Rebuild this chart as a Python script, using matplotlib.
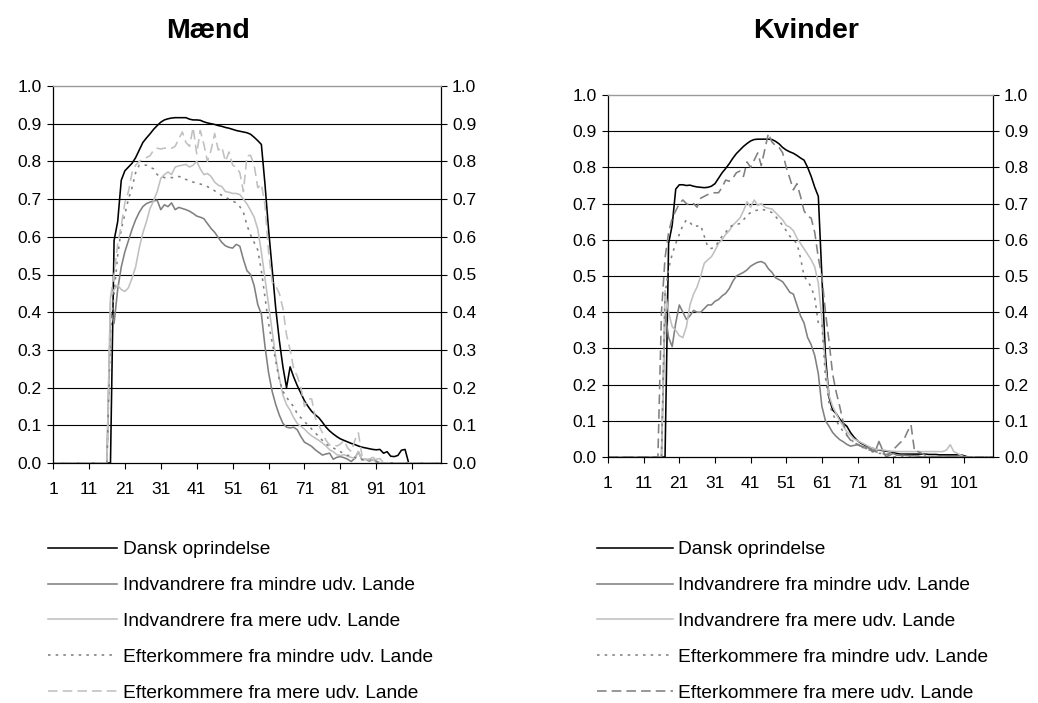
import matplotlib
matplotlib.use("Agg")
import matplotlib.pyplot as plt
import numpy as np

plt.rcParams["font.family"] = ["Liberation Sans", "DejaVu Sans"]

N_AGES = 109
AGES = np.arange(1, N_AGES + 1)
X_TICKS = np.arange(1, 102, 10)
Y_TICKS = np.round(np.arange(0, 1.01, 0.1), 1)

LABELS = [
    "Dansk oprindelse",
    "Indvandrere fra mindre udv. Lande",
    "Indvandrere fra mere udv. Lande",
    "Efterkommere fra mindre udv. Lande",
    "Efterkommere fra mere udv. Lande",
]

# Mænd, values from the first listed age (17) onwards; zero elsewhere
MEN_START = 17
MEN_DANSK = [
    0.0, 0.59, 0.64, 0.75, 0.775, 0.785, 0.795, 0.81, 0.83, 0.85,
    0.862, 0.873, 0.885, 0.895, 0.904, 0.91, 0.913, 0.915, 0.916, 0.916,
    0.916, 0.916, 0.912, 0.91, 0.91, 0.909, 0.905, 0.902, 0.90, 0.898,
    0.895, 0.893, 0.89, 0.888, 0.885, 0.882, 0.88, 0.878, 0.876, 0.872,
    0.864, 0.855, 0.845, 0.74, 0.62, 0.515, 0.41, 0.325, 0.255, 0.2,
    0.255, 0.228, 0.205, 0.185, 0.165, 0.15, 0.137, 0.128, 0.12, 0.108,
    0.095, 0.085, 0.077, 0.07, 0.064, 0.06, 0.056, 0.052, 0.049, 0.045,
    0.042, 0.04, 0.038, 0.036, 0.035, 0.036, 0.026, 0.03, 0.018, 0.017,
    0.02, 0.034, 0.036, 0.0,
]
MEN_IND_MINDRE = [
    0.40, 0.37, 0.46, 0.52, 0.56, 0.59, 0.62, 0.645, 0.665, 0.68,
    0.688, 0.692, 0.695, 0.697, 0.672, 0.685, 0.68, 0.69, 0.672, 0.678,
    0.675, 0.672, 0.668, 0.662, 0.655, 0.652, 0.648, 0.635, 0.622, 0.612,
    0.598, 0.585, 0.576, 0.572, 0.57, 0.58, 0.575, 0.54, 0.51, 0.5,
    0.47, 0.42, 0.395, 0.31, 0.24, 0.19, 0.155, 0.127, 0.105, 0.095,
    0.093, 0.095, 0.088, 0.07, 0.055, 0.05, 0.044, 0.035, 0.028, 0.021,
    0.024, 0.026, 0.01, 0.015, 0.017, 0.014, 0.01, 0.004, 0.012, 0.03,
    0.008, 0.01, 0.005, 0.008, 0.005, 0.0,
]
MEN_IND_MERE = [
    0.44, 0.46, 0.472, 0.46, 0.455, 0.465, 0.49, 0.52, 0.57, 0.61,
    0.64, 0.675, 0.695, 0.72, 0.755, 0.765, 0.772, 0.765, 0.785, 0.788,
    0.79, 0.792, 0.785, 0.79, 0.80, 0.78, 0.765, 0.768, 0.76, 0.745,
    0.737, 0.733, 0.72, 0.718, 0.715, 0.715, 0.712, 0.70, 0.687, 0.67,
    0.652, 0.62, 0.56, 0.49, 0.42, 0.35, 0.28, 0.225, 0.18, 0.155,
    0.14, 0.12, 0.105, 0.097, 0.09, 0.08, 0.072, 0.066, 0.06, 0.053,
    0.045, 0.035, 0.03, 0.022, 0.02, 0.022, 0.018, 0.015, 0.012, 0.03,
    0.008, 0.01, 0.008, 0.007, 0.01, 0.012, 0.0,
]
MEN_EFT_MINDRE = [
    0.35, 0.45, 0.55, 0.62, 0.66, 0.70, 0.73, 0.77, 0.79, 0.79,
    0.79, 0.785, 0.78, 0.765, 0.76, 0.757, 0.757, 0.757, 0.757, 0.76,
    0.758, 0.752, 0.75, 0.745, 0.743, 0.74, 0.737, 0.733, 0.728, 0.722,
    0.715, 0.71, 0.705, 0.70, 0.695, 0.69, 0.68, 0.665, 0.63, 0.605,
    0.585, 0.565, 0.51, 0.44, 0.37, 0.32, 0.27, 0.22, 0.19, 0.175,
    0.16, 0.15, 0.13, 0.12, 0.11, 0.1, 0.09, 0.08, 0.07, 0.06,
    0.05, 0.045, 0.04, 0.035, 0.03, 0.025, 0.02, 0.02, 0.015, 0.01,
    0.01, 0.008, 0.01, 0.005, 0.0,
]
MEN_EFT_MERE = [
    0.44, 0.5, 0.58, 0.63, 0.69, 0.72, 0.77, 0.79, 0.80, 0.805,
    0.81, 0.815, 0.83, 0.835, 0.833, 0.835, 0.835, 0.835, 0.84, 0.86,
    0.878, 0.85, 0.84, 0.89, 0.82, 0.882, 0.845, 0.80, 0.83, 0.874,
    0.83, 0.838, 0.80, 0.825, 0.79, 0.785, 0.77, 0.72, 0.815, 0.816,
    0.79, 0.73, 0.74, 0.685, 0.56, 0.48, 0.47, 0.45, 0.41, 0.34,
    0.30, 0.25, 0.23, 0.2, 0.15, 0.17, 0.17, 0.12, 0.1, 0.08,
    0.06, 0.048, 0.05, 0.045, 0.05, 0.06, 0.04, 0.03, 0.06, 0.08,
    0.02, 0.01, 0.01, 0.015, 0.01, 0.0,
]

# Kvinder, values from age 16 onwards
WOMEN_START = 16
WOMEN_DANSK = [
    0.0, 0.0, 0.59, 0.64, 0.74, 0.752, 0.752, 0.75, 0.751, 0.748,
    0.746, 0.745, 0.744, 0.745, 0.748, 0.755, 0.77, 0.785, 0.797, 0.81,
    0.825, 0.838, 0.848, 0.858, 0.866, 0.873, 0.877, 0.878, 0.878, 0.878,
    0.878, 0.877, 0.872, 0.865, 0.855, 0.848, 0.843, 0.839, 0.833, 0.826,
    0.82, 0.80, 0.775, 0.745, 0.72, 0.5, 0.28, 0.165, 0.13, 0.12,
    0.105, 0.093, 0.085, 0.068, 0.055, 0.045, 0.038, 0.033, 0.028, 0.024,
    0.022, 0.019, 0.018, 0.016, 0.015, 0.012, 0.01, 0.008, 0.008, 0.008,
    0.008, 0.008, 0.008, 0.008, 0.008, 0.007, 0.007, 0.007, 0.006, 0.006,
    0.006, 0.006, 0.006, 0.006, 0.006, 0.003, 0.0,
]
WOMEN_IND_MINDRE = [
    0.0, 0.40, 0.33, 0.305, 0.37, 0.42, 0.40, 0.38, 0.39, 0.405,
    0.40, 0.40, 0.41, 0.42, 0.42, 0.43, 0.435, 0.445, 0.452, 0.465,
    0.485, 0.50, 0.505, 0.51, 0.517, 0.527, 0.533, 0.538, 0.54, 0.535,
    0.52, 0.51, 0.495, 0.49, 0.484, 0.47, 0.455, 0.45, 0.42, 0.39,
    0.37, 0.33, 0.31, 0.28, 0.23, 0.14, 0.1, 0.085, 0.068, 0.057,
    0.048, 0.042, 0.035, 0.03, 0.032, 0.034, 0.03, 0.028, 0.025, 0.02,
    0.016, 0.043, 0.02, 0.0, 0.005, 0.01, 0.005, 0.005, 0.005, 0.004,
    0.004, 0.003, 0.003, 0.0,
]
WOMEN_IND_MERE = [
    0.0, 0.46, 0.40, 0.36, 0.35, 0.335, 0.33, 0.36, 0.42, 0.45,
    0.47, 0.50, 0.535, 0.545, 0.553, 0.57, 0.59, 0.60, 0.615, 0.625,
    0.64, 0.65, 0.66, 0.68, 0.705, 0.69, 0.71, 0.695, 0.70, 0.69,
    0.687, 0.685, 0.675, 0.665, 0.655, 0.64, 0.635, 0.625, 0.605, 0.59,
    0.575, 0.56, 0.545, 0.525, 0.48, 0.38, 0.25, 0.17, 0.14, 0.12,
    0.1, 0.085, 0.07, 0.06, 0.05, 0.045, 0.04, 0.035, 0.03, 0.025,
    0.022, 0.02, 0.02, 0.018, 0.016, 0.016, 0.015, 0.015, 0.015, 0.015,
    0.015, 0.015, 0.015, 0.015, 0.015, 0.015, 0.015, 0.015, 0.015, 0.015,
    0.02, 0.034, 0.015, 0.01, 0.005, 0.0,
]
WOMEN_EFT_MINDRE = [
    0.0, 0.45, 0.52, 0.56, 0.59, 0.615, 0.64, 0.655, 0.648, 0.636,
    0.638, 0.64, 0.61, 0.58, 0.576, 0.58, 0.595, 0.61, 0.62, 0.635,
    0.64, 0.642, 0.645, 0.655, 0.668, 0.675, 0.68, 0.682, 0.685, 0.682,
    0.68, 0.675, 0.665, 0.652, 0.64, 0.625, 0.61, 0.60, 0.59, 0.55,
    0.50, 0.485, 0.47, 0.44, 0.37, 0.37, 0.22, 0.15, 0.12, 0.1,
    0.085, 0.07, 0.06, 0.05, 0.04, 0.035, 0.03, 0.025, 0.02, 0.015,
    0.012, 0.01, 0.01, 0.008, 0.005, 0.0,
]
WOMEN_EFT_MERE = [
    0.40, 0.55, 0.62, 0.66, 0.68, 0.70, 0.71, 0.70, 0.695, 0.70,
    0.69, 0.715, 0.72, 0.725, 0.728, 0.73, 0.73, 0.745, 0.765, 0.762,
    0.77, 0.785, 0.79, 0.775, 0.815, 0.80, 0.82, 0.84, 0.805, 0.85,
    0.894, 0.87, 0.86, 0.855, 0.84, 0.80, 0.77, 0.738, 0.755, 0.72,
    0.68, 0.665, 0.66, 0.62, 0.55, 0.5, 0.4, 0.32, 0.23, 0.18,
    0.14, 0.095, 0.06, 0.047, 0.04, 0.035, 0.03, 0.022, 0.02, 0.018,
    0.015, 0.012, 0.01, 0.006, 0.01, 0.02, 0.03, 0.04, 0.048, 0.07,
    0.089, 0.015, 0.015, 0.01, 0.005, 0.0,
]

BLACK = "#000000"
DARK = "#808080"
LIGHT = "#c0c0c0"


def full(values, start):
    out = np.zeros(N_AGES)
    out[start - 1:start - 1 + len(values)] = values
    return out


def styles(dash_color):
    return [
        dict(color=BLACK),
        dict(color=DARK),
        dict(color=LIGHT),
        dict(color=DARK, dashes=(1.6, 3.2)),
        dict(color=dash_color, dashes=(6, 3.2)),
    ]


def panel(fig, rect, series, start, dash_color, title, title_x, legend_x, legend_hl):
    ax = fig.add_axes(rect)
    lines = []
    for values, st, label in zip(series, styles(dash_color), LABELS):
        (ln,) = ax.plot(AGES, full(values, start), lw=1.15, label=label, **st)
        lines.append(ln)
    ax.set_xlim(1, 109)
    ax.set_ylim(0, 1)
    ax.set_xticks(X_TICKS)
    ax.set_yticks(Y_TICKS)
    ax.yaxis.set_major_formatter(plt.FormatStrFormatter("%.1f"))
    ax.yaxis.grid(True, color="black", lw=0.8)
    grid = ax.get_ygridlines()
    grid[0].set_visible(False)
    grid[-1].set_visible(False)
    for side in ("left", "right", "bottom"):
        ax.spines[side].set_color("black")
        ax.spines[side].set_linewidth(0.9)
    ax.spines["top"].set_color("#9a9a9a")
    ax.spines["top"].set_linewidth(1.0)
    ax.tick_params(axis="y", direction="out", length=4, width=0.8, pad=4,
                   labelsize=12.5, right=True, labelright=True)
    ax.tick_params(axis="x", direction="out", length=4, width=0.8, pad=10,
                   labelsize=12.5)
    fig.text(title_x, 1 - 31 / 703, title, ha="center", va="center",
             fontsize=20.5, fontweight="bold")
    fig.legend(handles=lines, loc="upper left",
               bbox_to_anchor=(legend_x, 1 - 541 / 703), frameon=False,
               fontsize=13.8, handlelength=legend_hl, handletextpad=0.3,
               labelspacing=0.96, borderpad=0, borderaxespad=0)
    return ax


fig = plt.figure(figsize=(10.38, 7.03), dpi=100)

panel(fig, [53 / 1038, 1 - 463 / 703, 388 / 1038, 377 / 703],
      [MEN_DANSK, MEN_IND_MINDRE, MEN_IND_MERE, MEN_EFT_MINDRE, MEN_EFT_MERE],
      MEN_START, LIGHT, "Mænd", 208 / 1038, 48 / 1038, 3.6)
panel(fig, [608 / 1038, 1 - 457 / 703, 385 / 1038, 362 / 703],
      [WOMEN_DANSK, WOMEN_IND_MINDRE, WOMEN_IND_MERE, WOMEN_EFT_MINDRE, WOMEN_EFT_MERE],
      WOMEN_START, DARK, "Kvinder", 806 / 1038, 597 / 1038, 3.95)

fig.savefig("out.png", dpi=100, facecolor="white")
